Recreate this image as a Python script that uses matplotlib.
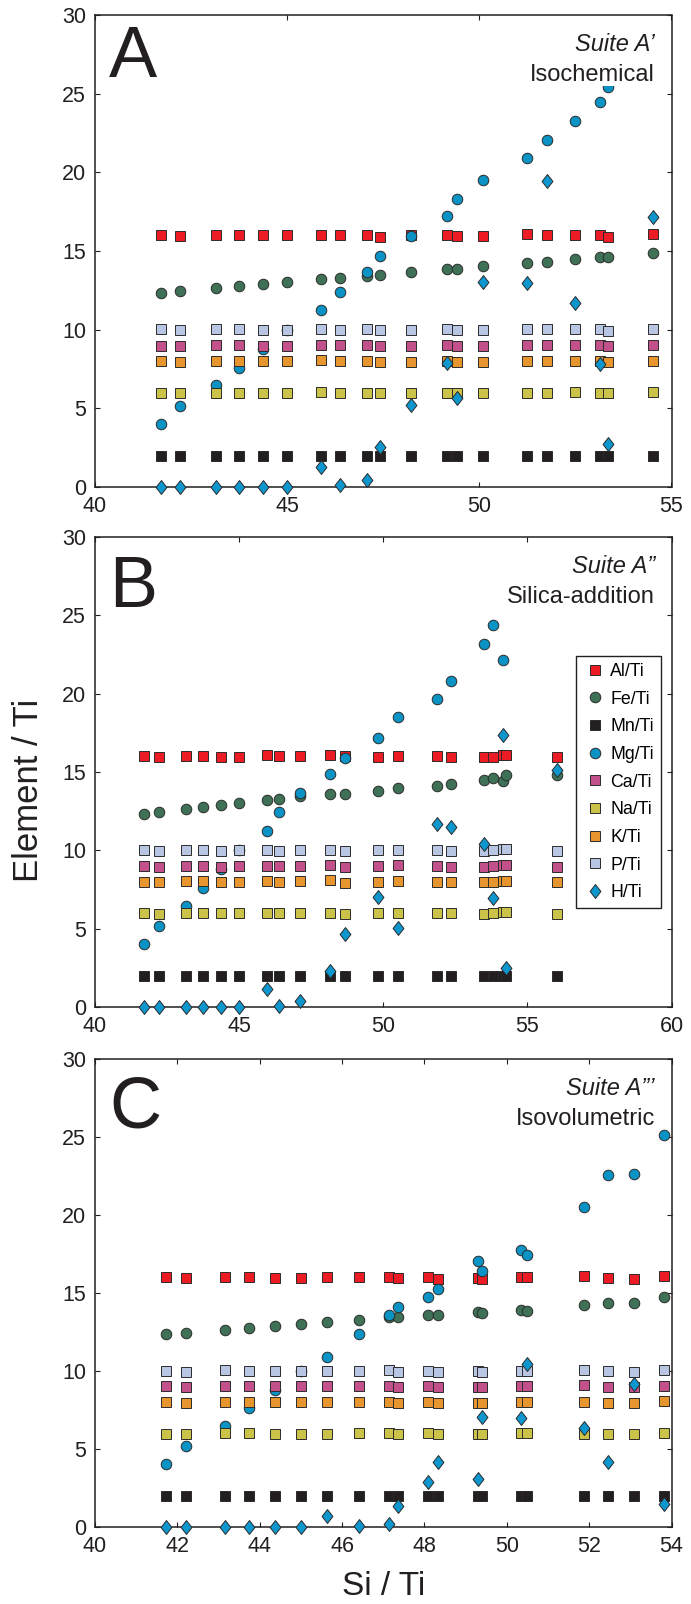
import numpy as np
import matplotlib
matplotlib.use("Agg")
import matplotlib.pyplot as plt
from matplotlib.path import Path
from matplotlib.transforms import offset_copy

plt.rcParams["font.family"] = ["Liberation Sans", "DejaVu Sans"]

nan = np.nan

# ------------------------------------------------------------
#  Suite A' (isochemical)
# ------------------------------------------------------------
si_a = [41.71, 42.21, 43.14, 43.74, 44.36, 45.00, 45.87, 46.37, 47.07, 47.41,
        48.21, 49.16, 49.43, 50.10, 51.23, 51.76, 52.49, 53.14, 53.36, 54.53]
al_a = [16.02, 15.96, 16.04, 16.00, 16.00, 16.00, 16.04, 16.02, 16.00, 15.91,
        16.00, 16.04, 15.93, 15.93, 16.06, 16.02, 16.02, 16.02, 15.91, 16.06]
fe_a = [12.35, 12.43, 12.62, 12.75, 12.88, 13.00, 13.19, 13.28, 13.40, 13.45,
        13.64, 13.85, 13.87, 14.04, 14.25, 14.33, 14.48, 14.61, 14.61, 14.88]
mn_a = [2.00, 2.00, 2.00, 2.00, 2.00, 2.00, 2.00, 2.00, 2.00, 2.00,
        2.00, 2.00, 2.00, 2.00, 2.00, 2.00, 2.00, 2.00, 2.00, 2.00]
mg_a = [4.02, 5.18, 6.47, 7.59, 8.79, 9.98, 11.25, 12.41, 13.64, 14.71,
        15.97, 17.25, 18.33, 19.51, 20.89, 22.03, 23.28, 24.45, 25.40, nan]
ca_a = [8.99, 8.94, 9.01, 9.01, 8.99, 8.99, 9.03, 9.01, 9.01, 8.94,
        8.96, 9.01, 8.94, 8.94, 9.01, 9.01, 9.01, 9.01, 8.94, 9.01]
na_a = [5.98, 5.96, 6.00, 6.00, 5.98, 5.98, 6.03, 6.00, 6.00, 5.96,
        5.96, 6.00, 5.96, 5.96, 6.00, 6.00, 6.03, 6.00, 5.96, 6.03]
k_a = [7.99, 7.97, 8.03, 8.01, 7.99, 7.99, 8.05, 8.01, 8.01, 7.95,
       7.97, 8.01, 7.95, 7.95, 8.01, 8.01, 8.01, 8.01, 7.95, 8.01]
p_a = [10.02, 9.96, 10.04, 10.02, 9.98, 9.98, 10.04, 10.00, 10.02, 9.96,
       9.98, 10.02, 9.96, 9.96, 10.04, 10.02, 10.02, 10.02, 9.94, 10.02]
h_a = [0.00, 0.00, 0.00, 0.00, 0.00, 0.00, 1.27, 0.13, 0.42, 2.54,
       5.22, 7.86, 5.64, 13.04, 12.94, 19.43, 11.71, 7.82, 2.75, 17.16]

# ------------------------------------------------------------
#  Suite A'' (silica addition)
# ------------------------------------------------------------
si_b = [41.70, 42.21, 43.16, 43.73, 44.36, 45.00, 45.98, 46.38, 47.12, 48.16,
        48.67, 49.83, 50.51, 51.86, 52.35, 53.50, 53.80, 54.16, 54.25, 56.03]
al_b = [16.02, 15.96, 16.04, 16.02, 15.98, 15.98, 16.06, 16.02, 16.02, 16.06,
        16.02, 15.98, 16.04, 16.02, 15.96, 15.96, 15.96, 16.08, 16.08, 15.93]
fe_b = [12.35, 12.44, 12.65, 12.76, 12.89, 13.01, 13.19, 13.29, 13.44, 13.59,
        13.61, 13.80, 14.00, 14.08, 14.21, 14.47, 14.61, 14.44, 14.83, 14.79]
mn_b = [2.00, 2.00, 2.00, 2.00, 2.00, 2.00, 2.00, 2.00, 2.00, 2.00,
        2.00, 2.00, 2.00, 2.00, 2.00, 2.00, 2.00, 2.00, 2.00, 2.00]
mg_b = [4.01, 5.18, 6.46, 7.62, 8.79, 10.00, 11.24, 12.42, 13.66, 14.89,
        15.90, 17.20, 18.50, 19.64, 20.78, 23.18, 24.36, 22.12, nan, nan]
ca_b = [9.00, 8.96, 9.02, 9.02, 8.96, 9.00, 9.02, 9.00, 9.00, 9.05,
        8.96, 8.98, 9.05, 9.00, 8.96, 8.96, 8.98, 9.07, 9.07, 8.96]
na_b = [5.98, 5.96, 6.02, 6.00, 5.98, 5.98, 6.02, 5.98, 6.00, 6.02,
        5.96, 6.00, 6.02, 5.98, 5.98, 5.96, 5.98, 6.04, 6.04, 5.96]
k_b = [8.00, 7.98, 8.07, 8.07, 7.98, 8.00, 8.04, 8.00, 8.02, 8.09,
       7.94, 8.00, 8.07, 8.00, 8.00, 7.98, 8.00, 8.07, 8.07, 7.98]
p_b = [10.00, 9.96, 10.04, 10.04, 9.98, 10.00, 10.04, 9.98, 10.02, 10.04,
       9.94, 10.00, 10.04, 10.00, 9.96, 9.98, 10.00, 10.06, 10.06, 9.98]
h_b = [0.00, 0.00, 0.00, 0.00, 0.00, 0.00, 1.13, 0.09, 0.38, 2.28,
       4.69, 7.00, 5.06, 11.69, 11.48, 10.39, 6.96, 17.35, 2.47, 15.15]

# ------------------------------------------------------------
#  Suite A''' (isovolumetric)
# ------------------------------------------------------------
si_c = [41.72, 42.22, 43.15, 43.74, 44.37, 45.01, 45.64, 46.42, 47.15, 47.36,
        48.08, 48.32, 49.30, 49.39, 50.35, 50.50, 51.87, 52.47, 53.08, 53.82]
al_c = [16.00, 15.94, 16.05, 16.00, 15.98, 15.98, 16.00, 16.00, 16.03, 15.94,
        16.00, 15.89, 15.96, 15.92, 16.00, 16.00, 16.07, 15.98, 15.92, 16.07]
fe_c = [12.35, 12.44, 12.65, 12.76, 12.88, 13.01, 13.12, 13.29, 13.46, 13.46,
        13.57, 13.57, 13.78, 13.72, 13.93, 13.87, 14.25, 14.36, 14.36, 14.72]
mn_c = [2.00, 2.00, 2.00, 2.00, 2.00, 2.00, 2.00, 2.00, 2.00, 2.00,
        2.00, 2.00, 2.00, 2.00, 2.00, 2.00, 2.00, 2.00, 2.00, 2.00]
mg_c = [4.02, 5.19, 6.47, 7.63, 8.80, 10.02, 10.92, 12.39, 13.57, 14.12,
        14.74, 15.26, 17.03, 16.41, 17.78, 17.42, 20.52, 22.55, 22.66, 25.10]
ca_c = [9.02, 8.97, 9.04, 9.04, 9.02, 9.02, 9.02, 9.02, 9.04, 8.97,
        9.04, 8.97, 8.99, 8.97, 9.02, 9.02, 9.08, 8.99, 8.97, 9.06]
na_c = [5.98, 5.96, 6.02, 6.00, 5.98, 5.98, 5.98, 6.00, 6.02, 5.96,
        6.02, 5.96, 5.98, 5.96, 6.00, 6.00, 5.98, 5.98, 5.96, 6.02]
k_c = [8.00, 7.98, 8.04, 8.02, 8.00, 8.00, 8.00, 8.02, 8.02, 7.96,
       8.02, 7.96, 7.98, 7.96, 8.00, 8.00, 8.04, 7.98, 7.96, 8.06]
p_c = [10.00, 9.96, 10.04, 10.02, 10.00, 10.00, 10.02, 10.02, 10.04, 9.96,
       10.02, 9.94, 9.98, 9.96, 10.02, 10.00, 10.04, 9.98, 9.96, 10.06]
h_c = [0.00, 0.00, 0.00, 0.00, 0.00, 0.00, 0.70, 0.04, 0.21, 1.37,
       2.86, 4.19, 3.06, 7.05, 6.97, 10.47, 6.35, 4.19, 9.19, 1.50]

y_ticks = [0, 5, 10, 15, 20, 25, 30]

# ------------------------------------------------------------
#  estilo de cada serie (orden de dibujo = orden de la leyenda)
# ------------------------------------------------------------
DIAMANTE = Path([(0, 1), (0.78, 0), (0, -1), (-0.78, 0), (0, 1)],
                [Path.MOVETO, Path.LINETO, Path.LINETO, Path.LINETO, Path.CLOSEPOLY])

ESTILOS = [
    ("Al/Ti", "s", 6.5, "#ED1C24"),
    ("Fe/Ti", "o", 7.6, "#3E7156"),
    ("Mn/Ti", "s", 6.5, "#231F20"),
    ("Mg/Ti", "o", 7.6, "#0B93C5"),
    ("Ca/Ti", "s", 6.5, "#C1508B"),
    ("Na/Ti", "s", 6.5, "#CBC24A"),
    ("K/Ti", "s", 6.5, "#E6952F"),
    ("P/Ti", "s", 6.5, "#B8C6E3"),
    ("H/Ti", DIAMANTE, 10.0, "#0E96CF"),
]
BORDE = "#2B2B2B"
TINTA = "#231F20"


def dibujar_panel(ax, si, series, xlim, xticks, letra, letra_dy, suite, subtitulo):
    for (nombre, marcador, tam, color), valores in zip(ESTILOS, series):
        ax.plot(si, valores, linestyle="none", marker=marcador, ms=tam,
                mfc=color, mec=BORDE, mew=0.7, label=nombre,
                clip_on=False, zorder=3)

    ax.set_xlim(*xlim)
    ax.set_ylim(0, 30)
    ax.set_xticks(xticks)
    ax.set_yticks(y_ticks)
    ax.tick_params(direction="in", top=True, right=True, length=3.6,
                   width=0.8, labelsize=15.5, pad=6.5, colors=TINTA)
    for sp in ax.spines.values():
        sp.set_linewidth(1.1)
        sp.set_color(TINTA)
        sp.set_zorder(2.5)

    # letra del panel, arriba a la izquierda
    t_izq = offset_copy(ax.transAxes, fig=ax.figure, x=14, y=-letra_dy, units="dots")
    ax.text(0, 1, letra, transform=t_izq, fontsize=52, ha="left",
            va="baseline", color=TINTA, zorder=5)

    # nombre de la suite, arriba a la derecha (con fondo blanco)
    caja = dict(facecolor="white", edgecolor="none", pad=0)
    t1 = offset_copy(ax.transAxes, fig=ax.figure, x=-16.5, y=-36, units="dots")
    ax.text(1, 1, suite, transform=t1, fontsize=17, style="italic",
            ha="right", va="baseline", color=TINTA, bbox=caja, zorder=5)
    t2 = offset_copy(ax.transAxes, fig=ax.figure, x=-16.5, y=-66, units="dots")
    ax.text(1, 1, subtitulo, transform=t2, fontsize=17, ha="right",
            va="baseline", color=TINTA, bbox=caja, zorder=5)


fig = plt.figure(figsize=(6.91, 16.04), dpi=100)
W, H = 691.0, 1604.0
izq, ancho = 95 / W, 576.5 / W
ax_a = fig.add_axes([izq, 1 - 487 / H, ancho, 472 / H])
ax_b = fig.add_axes([izq, 1 - 1007 / H, ancho, 470 / H])
ax_c = fig.add_axes([izq, 1 - 1527 / H, ancho, 468 / H])

dibujar_panel(ax_a, si_a, [al_a, fe_a, mn_a, mg_a, ca_a, na_a, k_a, p_a, h_a],
              (40, 55), [40, 45, 50, 55], "A", 62, "Suite A\u2019", "Isochemical")
dibujar_panel(ax_b, si_b, [al_b, fe_b, mn_b, mg_b, ca_b, na_b, k_b, p_b, h_b],
              (40, 60), [40, 45, 50, 55, 60], "B", 70, "Suite A\u201d", "Silica-addition")
dibujar_panel(ax_c, si_c, [al_c, fe_c, mn_c, mg_c, ca_c, na_c, k_c, p_c, h_c],
              (40, 54), [40, 42, 44, 46, 48, 50, 52, 54], "C", 69,
              "Suite A\u201d\u2019", "Isovolumetric")

leg = ax_b.legend(loc="upper right", bbox_to_anchor=(0.982, 0.747),
                  borderaxespad=0, fontsize=12.8, fancybox=False,
                  edgecolor=TINTA, framealpha=1, numpoints=1,
                  handlelength=1.35, handletextpad=0.2, borderpad=0.4,
                  labelspacing=0.6)
leg.get_frame().set_linewidth(1.0)
leg.set_zorder(6)

# rótulos de los ejes comunes
fig.text((95 + 671.5) / 2 / W, 1 - 1595 / H, "Si / Ti", fontsize=24,
         ha="center", va="baseline", color=TINTA)
fig.text(29 / W, 1 - 790 / H, "Element / Ti", fontsize=25, rotation=90,
         ha="center", va="center", color=TINTA)

fig.savefig("out.png", dpi=100)
